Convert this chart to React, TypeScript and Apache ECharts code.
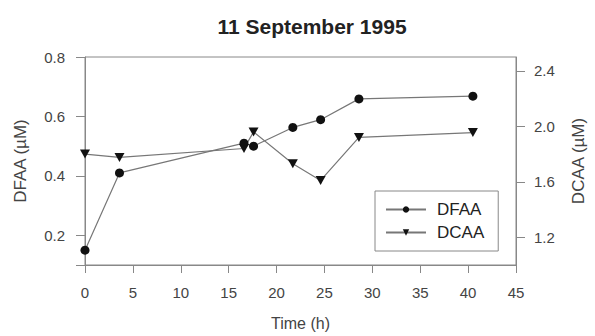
import React, { useEffect, useRef } from "react";
import * as echarts from "echarts";

const timeH = [0, 3.6, 16.6, 17.6, 21.7, 24.6, 28.6, 40.5];
const dfaa = [0.15, 0.41, 0.51, 0.5, 0.563, 0.589, 0.659, 0.668];
const dcaa = [1.8, 1.776, 1.84, 1.96, 1.73, 1.61, 1.92, 1.955];
const leftTicks = [0.2, 0.4, 0.6, 0.8];
const rightTicks = [1.2, 1.6, 2.0, 2.4];
const titleText = "11 September 1995";

const FONT = "Liberation Sans, Arial, sans-serif";

export default function App() {
  const ref = useRef<HTMLDivElement>(null);
  useEffect(() => {
    if (!ref.current) return;
    const chart = echarts.init(ref.current, null, { renderer: "svg" });
    const axisLineStyle = { color: "#888", width: 1 };
    chart.setOption({
      animation: false,
      backgroundColor: "#fff",
      title: {
        text: titleText,
        left: 307,
        top: 11,
        textAlign: "center",
        textStyle: { fontFamily: FONT, fontSize: 21, fontWeight: "bold", color: "#222" },
      },
      grid: {
        left: 85,
        right: 73,
        top: 57,
        bottom: 67,
        show: true,
        borderColor: "#888",
        borderWidth: 1,
      },
      legend: {
        orient: "vertical",
        left: 375,
        top: 191,
        data: ["DFAA", "DCAA"],
        borderColor: "#888",
        borderWidth: 1,
        padding: [10, 14, 10, 10],
        itemWidth: 40,
        itemHeight: 8,
        itemGap: 6,
        textStyle: { fontFamily: FONT, fontSize: 17, color: "#222", padding: [0, 0, 0, 6] },
      },
      xAxis: {
        type: "value",
        min: 0,
        max: 45,
        interval: 5,
        name: "Time (h)",
        nameLocation: "middle",
        nameGap: 50,
        nameTextStyle: { fontFamily: FONT, fontSize: 16, color: "#444" },
        axisLine: { show: true, lineStyle: axisLineStyle },
        axisTick: { show: true, length: 8, lineStyle: axisLineStyle },
        axisLabel: { fontFamily: FONT, fontSize: 15, color: "#444", margin: 20 },
        splitLine: { show: false },
      },
      yAxis: [
        {
          type: "value",
          position: "left",
          min: 0.1,
          max: 0.8,
          name: "DFAA (µM)",
          nameLocation: "middle",
          nameGap: 56,
          nameRotate: 90,
          nameTextStyle: { fontFamily: FONT, fontSize: 17, color: "#444" },
          axisLine: { show: true, lineStyle: axisLineStyle },
          axisTick: { show: true, length: 9, lineStyle: axisLineStyle, customValues: [0.1, ...leftTicks] },
          axisLabel: {
            fontFamily: FONT,
            fontSize: 15,
            color: "#444",
            margin: 20,
            customValues: leftTicks,
            formatter: (v: number) => v.toFixed(1),
          },
          splitLine: { show: false },
        },
        {
          type: "value",
          position: "right",
          min: 1.0,
          max: 2.5,
          name: "DCAA (µM)",
          nameLocation: "middle",
          nameGap: 54,
          nameRotate: 90,
          nameTextStyle: { fontFamily: FONT, fontSize: 17, color: "#444" },
          axisLine: { show: true, lineStyle: axisLineStyle },
          axisTick: { show: true, length: 9, lineStyle: axisLineStyle, customValues: rightTicks },
          axisLabel: {
            fontFamily: FONT,
            fontSize: 15,
            color: "#444",
            margin: 18,
            customValues: rightTicks,
            formatter: (v: number) => v.toFixed(1),
          },
          splitLine: { show: false },
        },
      ],
      series: [
        {
          name: "DFAA",
          type: "line",
          yAxisIndex: 0,
          data: timeH.map((t, i) => [t, dfaa[i]]),
          symbol: "circle",
          symbolSize: 9,
          lineStyle: { color: "#777", width: 1.2 },
          itemStyle: { color: "#111" },
        },
        {
          name: "DCAA",
          type: "line",
          yAxisIndex: 1,
          data: timeH.map((t, i) => [t, dcaa[i]]),
          symbol: "triangle",
          symbolRotate: 180,
          symbolSize: [10, 9],
          lineStyle: { color: "#777", width: 1.2 },
          itemStyle: { color: "#111" },
        },
      ],
    });
    return () => chart.dispose();
  }, []);
  return <div ref={ref} style={{ width: 595, height: 336, position: "absolute", left: 0, top: 0 }} />;
}
